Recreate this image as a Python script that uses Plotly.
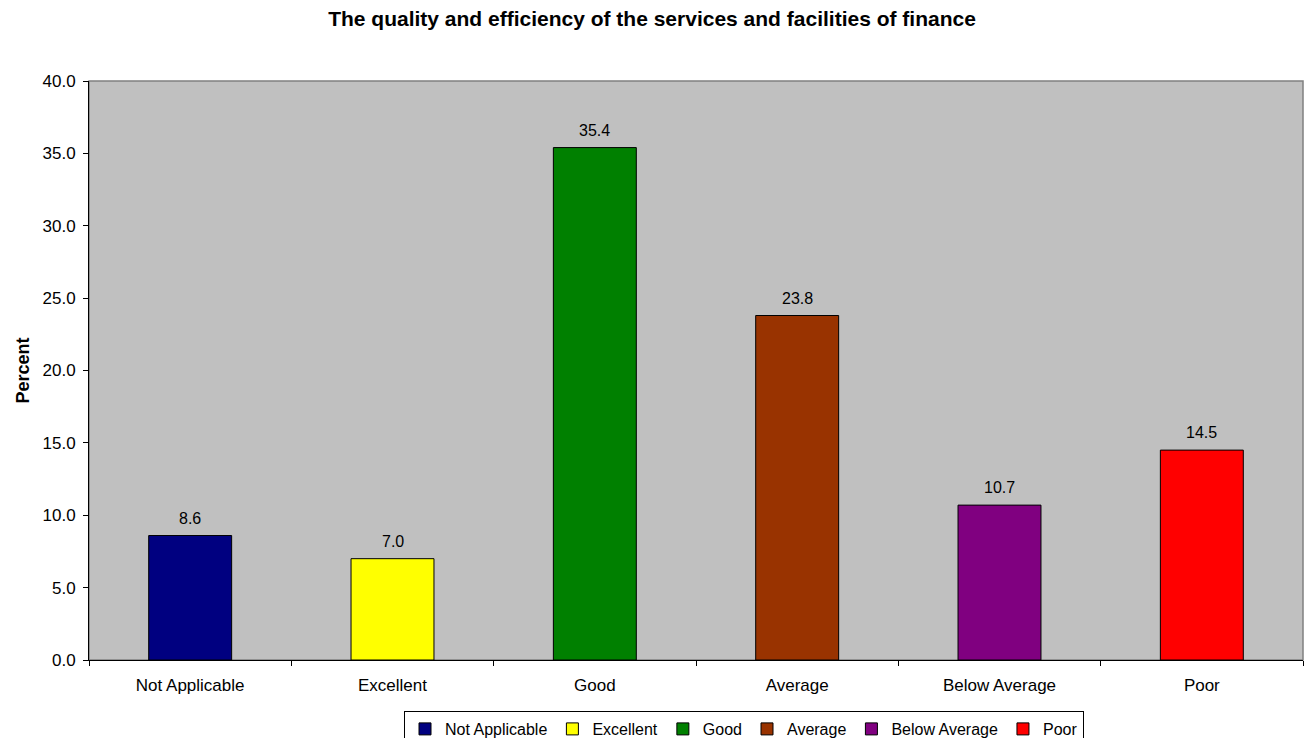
import plotly.graph_objects as go

categories = ["Not Applicable", "Excellent", "Good", "Average", "Below Average", "Poor"]
percent = [8.6, 7.0, 35.4, 23.8, 10.7, 14.5]
colors = ["#000080", "#FFFF00", "#008000", "#993300", "#800080", "#FF0000"]
y_ticks = [0, 5, 10, 15, 20, 25, 30, 35, 40]

FONT = "Liberation Sans, Arial, sans-serif"

fig = go.Figure()
for cat, val, col in zip(categories, percent, colors):
    fig.add_trace(go.Bar(
        x=[cat], y=[val], name=cat,
        marker=dict(color=col, line=dict(color="black", width=1)),
        width=0.41,
    ))
    # value label above each bar
    fig.add_annotation(x=cat, y=val, text=f"{val:.1f}", showarrow=False,
                       yanchor="bottom", yshift=7,
                       font=dict(size=16, color="black", family=FONT))

# gray frame around the plot area
fig.add_shape(type="rect", xref="paper", yref="paper", x0=0, y0=0, x1=1, y1=1,
              line=dict(color="#808080", width=1.5), layer="below")

fig.update_layout(
    width=1304, height=738,
    margin=dict(l=89, r=1, t=81, b=78, autoexpand=False),
    paper_bgcolor="white", plot_bgcolor="#C0C0C0",
    barmode="overlay",
    font=dict(family=FONT, size=16, color="black"),
    title=dict(text="<b>The quality and efficiency of the services and facilities of finance</b>",
               x=0.5, xref="container", xanchor="center",
               y=1 - 19 / 738, yref="container", yanchor="middle",
               font=dict(size=21, family=FONT)),
    showlegend=True,
    legend=dict(orientation="h", xref="paper", x=(744 - 89) / 1214, xanchor="center",
                yref="paper", y=-(711 - 660) / 579, yanchor="top",
                bordercolor="black", borderwidth=1, bgcolor="white",
                font=dict(size=16, family=FONT), itemwidth=30,
                tracegroupgap=0),
    xaxis=dict(categoryorder="array", categoryarray=categories,
               showline=True, linecolor="black", linewidth=1,
               ticks="outside", tickson="boundaries", ticklen=5, tickcolor="black",
               ticklabelstandoff=10,
               showgrid=False, tickfont=dict(size=17), zeroline=False),
    yaxis=dict(range=[0, 40], tickvals=y_ticks, tickformat=".1f",
               showline=True, linecolor="black", linewidth=1,
               ticks="outside", ticklen=5, tickcolor="black",
               ticklabelstandoff=4,
               showgrid=False, zeroline=False, tickfont=dict(size=17),
               title=dict(text="<b>Percent</b>", font=dict(size=18), standoff=8)),
)

fig.write_html("out.html")
